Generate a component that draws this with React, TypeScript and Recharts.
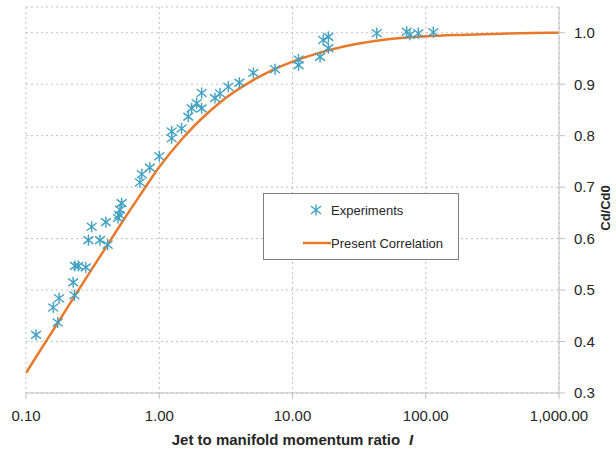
import React from 'react';
import {
  ComposedChart,
  Line,
  Scatter,
  XAxis,
  YAxis,
  CartesianGrid,
  Legend,
} from 'recharts';

// Present correlation curve
const curveI = [0.1, 0.15, 0.2, 0.3, 0.4, 0.5, 0.7, 1, 1.5, 2, 3, 5, 7, 10, 15, 20, 30, 50, 100, 200, 500, 1000];
const curveCd = [0.339, 0.411, 0.462, 0.534, 0.584, 0.623, 0.68, 0.739, 0.795, 0.829, 0.869, 0.907, 0.927, 0.944, 0.959, 0.968, 0.978, 0.987, 0.993, 0.996, 0.999, 1.0];

// Experiments
const expI = [
  0.119, 0.16, 0.173, 0.177, 0.226, 0.231, 0.233, 0.247, 0.281, 0.294, 0.311, 0.359, 0.398, 0.41,
  0.49, 0.501, 0.508, 0.522, 0.716, 0.74, 0.85, 1.0, 1.24, 1.24, 1.47, 1.65, 1.75, 1.91, 2.08, 2.08,
  2.62, 2.86, 3.3, 3.99, 5.08, 7.4, 11.1, 11.1, 16.1, 17.0, 18.6, 18.6, 42.9, 72, 76, 88, 114,
];
const expCd = [
  0.413, 0.466, 0.437, 0.484, 0.515, 0.49, 0.547, 0.547, 0.544, 0.597, 0.623, 0.597, 0.632, 0.588,
  0.64, 0.646, 0.656, 0.669, 0.709, 0.725, 0.738, 0.76, 0.795, 0.808, 0.814, 0.837, 0.853, 0.863, 0.853, 0.883,
  0.873, 0.882, 0.895, 0.903, 0.922, 0.929, 0.937, 0.948, 0.953, 0.986, 0.992, 0.97, 0.999, 1.002, 0.996, 0.999, 1.001,
];

const xTicks = [0.1, 1, 10, 100, 1000];
const yTicks = [0.3, 0.4, 0.5, 0.6, 0.7, 0.8, 0.9, 1.0];

const curveData = curveI.map((x, i) => ({ x, y: curveCd[i] }));
const expData = expI.map((x, i) => ({ x, y: expCd[i] }));

const FONT = '"Liberation Sans", Arial, sans-serif';
const BLUE = '#40A0C2';
const ORANGE = '#E8792B';
const GRID = '#BFBFBF';

const Star = ({ cx, cy }: any) => (
  <g stroke={BLUE} strokeWidth={1.4} strokeLinecap="round">
    <line x1={cx} y1={cy - 5} x2={cx} y2={cy + 5} />
    <line x1={cx - 4.5} y1={cy - 3.5} x2={cx + 4.5} y2={cy + 3.5} />
    <line x1={cx - 4.5} y1={cy + 3.5} x2={cx + 4.5} y2={cy - 3.5} />
  </g>
);

const fmtX = (v: number) =>
  v.toLocaleString('en-US', { minimumFractionDigits: 2, maximumFractionDigits: 2 });

const LegendBox = () => (
  <div
    style={{
      width: 196,
      height: 67,
      border: '1px solid #7F7F7F',
      background: '#fff',
      boxSizing: 'border-box',
    }}
  >
    <svg width={194} height={65} style={{ display: 'block' }}>
      <Star cx={52} cy={16} />
      <text x={67} y={16} dominantBaseline="central" fontFamily={FONT} fontSize={13} fill="#262626">
        Experiments
      </text>
      <line x1={39} y1={49} x2={67} y2={49} stroke={ORANGE} strokeWidth={2.5} />
      <text x={67} y={49} dominantBaseline="central" fontFamily={FONT} fontSize={13} fill="#262626">
        Present Correlation
      </text>
    </svg>
  </div>
);

export default function App() {
  return (
    <div style={{ position: 'absolute', left: 0, top: 0, background: '#fff' }}>
      <ComposedChart
        width={616}
        height={450}
        margin={{ top: 7, right: 0, bottom: 0, left: 26 }}
      >
        <CartesianGrid stroke={GRID} strokeDasharray="2 3" />
        <XAxis
          dataKey="x"
          type="number"
          scale="log"
          domain={[0.1, 1000]}
          ticks={xTicks}
          allowDataOverflow
          tickFormatter={fmtX}
          height={57}
          stroke={GRID}
          tickSize={6}
          tickMargin={11}
          tick={{ fill: '#262626', fontSize: 15, fontFamily: FONT }}
          label={{
            content: (props: any) => {
              const vb = props.viewBox;
              return (
                <text
                  x={vb.x + vb.width / 2}
                  y={vb.y + 52}
                  textAnchor="middle"
                  fontFamily={FONT}
                  fontSize={15}
                  fontWeight="bold"
                  fill="#262626"
                >
                  Jet to manifold momentum ratio
                  <tspan dx={9} fontStyle="italic">I</tspan>
                </text>
              );
            },
          }}
        />
        <YAxis
          orientation="right"
          type="number"
          domain={[0.3, 1.05]}
          ticks={yTicks}
          allowDataOverflow
          tickFormatter={(v: number) => v.toFixed(1)}
          width={57}
          stroke={GRID}
          tickSize={6}
          tickMargin={9}
          tick={{ fill: '#262626', fontSize: 15, fontFamily: FONT }}
          label={{
            content: (props: any) => {
              const vb = props.viewBox;
              const x = vb.x + 46;
              const y = vb.y + vb.height / 2 + 8;
              return (
                <text
                  x={x}
                  y={y}
                  transform={`rotate(-90 ${x} ${y})`}
                  textAnchor="middle"
                  dominantBaseline="central"
                  fontFamily={FONT}
                  fontSize={13}
                  fontWeight="bold"
                  fill="#262626"
                >
                  Cd/Cd0
                </text>
              );
            },
          }}
        />
        <Legend
          layout="vertical"
          align="center"
          verticalAlign="middle"
          content={() => <LegendBox />}
          wrapperStyle={{ left: 263, top: 193, width: 196, height: 67 }}
        />
        <Line
          data={curveData}
          dataKey="y"
          type="monotone"
          stroke={ORANGE}
          strokeWidth={2.5}
          dot={false}
          isAnimationActive={false}
        />
        <Scatter
          data={expData}
          dataKey="y"
          shape={<Star />}
          isAnimationActive={false}
        />
      </ComposedChart>
    </div>
  );
}
